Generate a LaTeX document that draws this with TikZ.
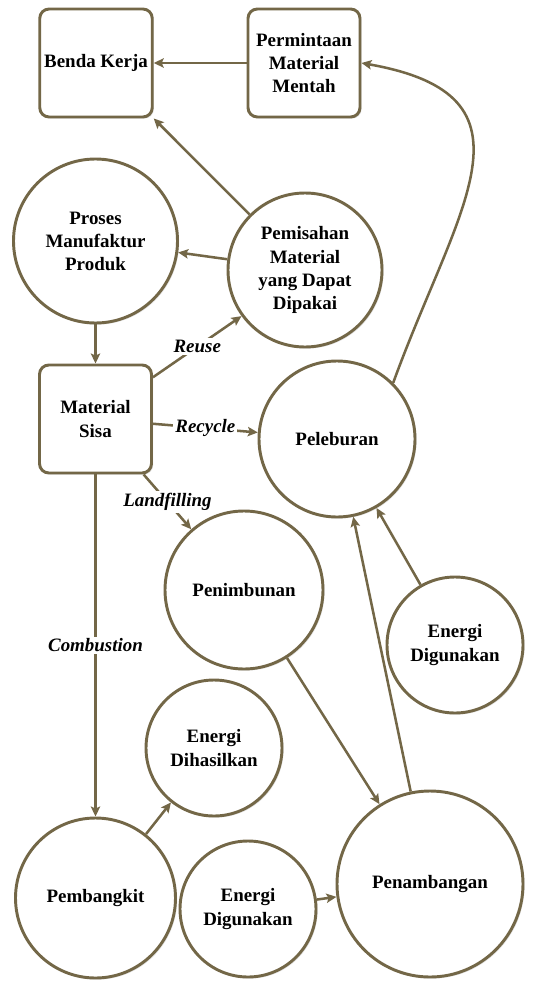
\documentclass[tikz,border=0pt]{standalone}
\usepackage{fontspec}
\setmainfont{Liberation Serif}
\usepackage{xcolor}
\usepackage{tikz}
\usetikzlibrary{shapes.geometric, arrows.meta, positioning, shadows}

\definecolor{olive}{HTML}{736747}
\newcommand{\labelsize}{\fontsize{14.2}{17.3}\selectfont}

\begin{document}
\begin{tikzpicture}[
    x=0.75pt, y=-0.75pt,
    box/.style={rectangle, draw=olive, line width=2.2pt, rounded corners=7pt, fill=white,
        minimum width=84pt, minimum height=81pt, align=center,
        drop shadow={shadow xshift=1.2pt, shadow yshift=-1.2pt, fill=black!22}},
    proc/.style={circle, draw=olive, line width=2.2pt, fill=white, align=center, inner sep=0pt,
        drop shadow={shadow xshift=1.2pt, shadow yshift=-1.2pt, fill=black!22}},
    flow/.style={draw=olive, line width=1.9pt, -{Stealth[length=7.5pt, width=7pt, inset=1.5pt]}},
    route/.style={fill=white, inner sep=1.5pt, font=\labelsize\bfseries\itshape},
    font=\labelsize\bfseries
]
    \useasboundingbox (0,0) rectangle (533,981);

    % Benda Kerja
    \node[box] (benda) at (96,63) {Benda Kerja};

    % Permintaan Material Mentah
    \node[box] (minta) at (304,63) {Permintaan\\Material\\Mentah};

    % Proses Manufaktur Produk
    \node[proc, minimum size=123pt] (proses) at (95.5,241) {Proses\\Manufaktur\\Produk};

    % Pemisahan Material
    \node[proc, minimum size=115.5pt] (pisah) at (305,270) {Pemisahan\\Material\\yang Dapat\\Dipakai};

    % Material Sisa
    \node[box] (sisa) at (95.5,419) {Material\\Sisa};

    % Peleburan
    \node[proc, minimum size=117pt] (lebur) at (337,439) {Peleburan};

    % Penimbunan
    \node[proc, minimum size=118.5pt] (timbun) at (244,590) {Penimbunan};

    % Energi Digunakan (kanan)
    \node[proc, minimum size=102pt] (gunakanan) at (455,645) {Energi\\Digunakan};

    % Energi Dihasilkan
    \node[proc, minimum size=102pt] (hasil) at (214,748) {Energi\\Dihasilkan};

    % Pembangkit
    \node[proc, minimum size=120pt] (bangkit) at (95.5,898) {Pembangkit};

    % Energi Digunakan (bawah)
    \node[proc, minimum size=102pt] (gunabawah) at (248,909) {Energi\\Digunakan};

    % Penambangan
    \node[proc, minimum size=139.5pt] (tambang) at (430,884) {Penambangan};

    % Aliran
    \draw[flow] (minta) -- (benda);
    \draw[flow] (pisah) -- (benda.south east);
    \draw[flow] (pisah) -- (proses);
    \draw[flow] (proses) -- (sisa);
    \draw[flow] (sisa.36) -- node[route] {Reuse} (pisah.216);
    \draw[flow] (sisa) -- node[route] {Recycle} (lebur);
    \draw[flow] (sisa) -- node[route] {Landfilling} (timbun);
    \draw[flow] (sisa) -- node[route] {Combustion} (bangkit);
    \draw[flow] (lebur.45) to[out=70, in=-10, looseness=1.5] (minta.east);
    \draw[flow] (gunakanan) -- (lebur);
    \draw[flow] (tambang) -- (lebur);
    \draw[flow] (timbun) -- (tambang);
    \draw[flow] (bangkit) -- (hasil);
    \draw[flow] (gunabawah) -- (tambang);
\end{tikzpicture}
\end{document}
